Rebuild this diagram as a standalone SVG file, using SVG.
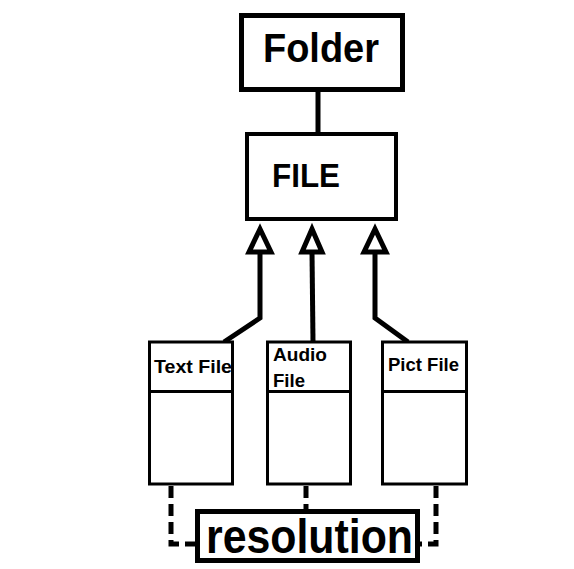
<svg xmlns="http://www.w3.org/2000/svg" width="574" height="569" viewBox="0 0 574 569">
<style>
.bx{fill:#fff;stroke:#000}
.t{font-family:"Liberation Sans",Arial,sans-serif;font-weight:bold;fill:#000}
.ln{fill:none;stroke:#000;stroke-width:5}
.ds{fill:none;stroke:#000;stroke-width:5;stroke-dasharray:12 6}
.tri{fill:#fff;stroke:#000;stroke-width:5;stroke-linejoin:miter}
</style>
<rect width="574" height="569" fill="#fff"/>
<g id="connectors">
<line class="ln" x1="318" y1="92" x2="318" y2="132"/>
<polyline class="ln" points="260,252 260,318 224,342"/>
<polyline class="ln" points="312,252 313,341"/>
<polyline class="ln" points="375,252 375,318 408,342"/>
<polygon class="tri" points="260,229 249,252 271,252"/>
<polygon class="tri" points="312,229 302,252 322,252"/>
<polygon class="tri" points="375,229 364,252 386,252"/>
<polyline class="ds" points="171,486 171,544 197,544"/>
<line class="ds" x1="306" y1="486" x2="306" y2="509" stroke-dasharray="6 5"/>
<polyline class="ds" points="436,486 436,544 420,544"/>
</g>
<g id="folder">
<rect class="bx" x="241.5" y="15.5" width="161" height="74" stroke-width="5"/>
<text class="t" x="263" y="62" font-size="40" textLength="116" lengthAdjust="spacingAndGlyphs">Folder</text>
</g>
<g id="file">
<rect class="bx" x="247" y="134" width="149" height="85" stroke-width="4"/>
<text class="t" x="272" y="187" font-size="34" textLength="68" lengthAdjust="spacingAndGlyphs">FILE</text>
</g>
<g id="textfile">
<rect class="bx" x="149.5" y="342" width="83" height="142" stroke-width="3"/>
<line x1="149.5" y1="391.5" x2="232.5" y2="391.5" stroke="#000" stroke-width="3"/>
<text class="t" x="154" y="373" font-size="18" textLength="78" lengthAdjust="spacingAndGlyphs">Text File</text>
</g>
<g id="audiofile">
<rect class="bx" x="267.5" y="342" width="83" height="142" stroke-width="3"/>
<line x1="267.5" y1="391.5" x2="350.5" y2="391.5" stroke="#000" stroke-width="3"/>
<text class="t" x="273" y="361" font-size="18" textLength="54" lengthAdjust="spacingAndGlyphs">Audio</text>
<text class="t" x="273" y="387" font-size="18" textLength="32" lengthAdjust="spacingAndGlyphs">File</text>
</g>
<g id="pictfile">
<rect class="bx" x="382.5" y="342" width="84" height="142" stroke-width="3"/>
<line x1="382.5" y1="391.5" x2="466.5" y2="391.5" stroke="#000" stroke-width="3"/>
<text class="t" x="388" y="371" font-size="18" textLength="71" lengthAdjust="spacingAndGlyphs">Pict File</text>
</g>
<g id="resolution">
<rect class="bx" x="197.5" y="511.5" width="220" height="49" stroke-width="5"/>
<text class="t" x="206" y="553" font-size="48" textLength="207" lengthAdjust="spacingAndGlyphs">resolution</text>
</g>
</svg>
